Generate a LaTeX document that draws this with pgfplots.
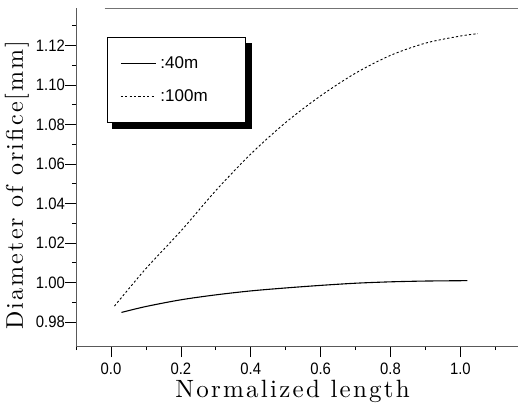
\documentclass[border=0pt]{standalone}
\usepackage{fontspec}
\usepackage{pgfplots}
\pgfplotsset{compat=1.18}
\usetikzlibrary{calc}
\newfontfamily\tickfont[FakeStretch=0.9]{Liberation Sans}
\newfontfamily\legfont{Liberation Sans}
\newfontfamily\labfont[LetterSpace=9]{lmroman10-regular.otf}

\pgfplotstableread{
x y
0.03 0.9848
0.10 0.9878
0.20 0.9912
0.30 0.9937
0.40 0.9957
0.50 0.9972
0.60 0.9985
0.70 0.9996
0.80 1.0003
0.90 1.0007
1.02 1.0009
}\fortym

\pgfplotstableread{
x y
0.01 0.9880
0.10 1.0070
0.20 1.0260
0.30 1.0465
0.40 1.0650
0.50 1.0810
0.60 1.0945
0.70 1.1060
0.80 1.1150
0.90 1.1212
1.00 1.1248
1.05 1.1260
}\hundredm

\begin{document}
\begin{tikzpicture}
\begin{axis}[
  scale only axis,
  width=442pt, height=338pt,
  xmin=-0.1, xmax=1.165,
  ymin=0.9678, ymax=1.139,
  axis x line*=bottom, axis y line*=left,
  axis line style={black!65, line width=0.6pt, -},
  xtick={0,0.2,...,1.0},
  minor xtick={-0.1,0.1,0.3,0.5,0.7,0.9,1.1},
  ytick={0.98,1.00,...,1.12},
  minor ytick={0.99,1.01,1.03,1.05,1.07,1.09,1.11,1.13},
  tick align=outside,
  major tick length=11pt, minor tick length=4pt,
  tick style={black, line width=0.6pt},
  /pgf/number format/assume math mode=true,
  ticklabel style={font=\tickfont\fontsize{16.5}{16.5}\selectfont},
  xticklabel style={/pgf/number format/fixed, /pgf/number format/fixed zerofill, /pgf/number format/precision=1, inner ysep=2pt, yshift=-4pt},
  yticklabel style={/pgf/number format/fixed, /pgf/number format/fixed zerofill, /pgf/number format/precision=2, inner xsep=0pt},
  xlabel={\labfont\fontsize{25}{30}\selectfont Normalized length},
  ylabel={\labfont\fontsize{24}{28}\selectfont Diameter of orifice[mm]},
  xlabel style={at={(axis description cs:0.49,0)}, anchor=north, yshift=-34pt, inner sep=0pt},
  ylabel style={at={(axis description cs:0,0.476)}, anchor=south, yshift=47pt, inner sep=0pt},
  legend style={name=leg, at={(0.07,0.914)}, anchor=north west, draw=black, line width=0.8pt,
    fill=white, inner xsep=13pt, inner ysep=17pt, row sep=16pt, column sep=2pt,
    font=\legfont\fontsize{17}{17}\selectfont,
    nodes={inner sep=2pt, text width=70pt}},
  legend image code/.code={\draw[#1] (0pt,0pt) -- (35pt,0pt);},
  legend cell align=left,
  clip=false,
]
\addplot[black, line width=1.1pt, smooth] table[x=x, y=y] {\fortym};
\addplot[black, line width=0.9pt, dash pattern=on 2.2pt off 2.2pt, smooth] table[x=x, y=y] {\hundredm};
\legend{{:40m},{:100m}}
\draw[black!55, line width=0.7pt] (rel axis cs:0.065,1) -- (rel axis cs:1,1);
\coordinate (O) at (rel axis cs:0,0);
\end{axis}
\fill[black] ($(leg.south west)+(5pt,-0.4pt)$) rectangle ($(leg.south east)+(6pt,-6pt)$);
\fill[black] ($(leg.north east)+(0.4pt,-6pt)$) rectangle ($(leg.south east)+(6pt,-0.4pt)$);
\pgfresetboundingbox
\path ($(O)+(-76pt,-58pt)$) rectangle ($(O)+(442pt,346pt)$);
\end{tikzpicture}
\end{document}
